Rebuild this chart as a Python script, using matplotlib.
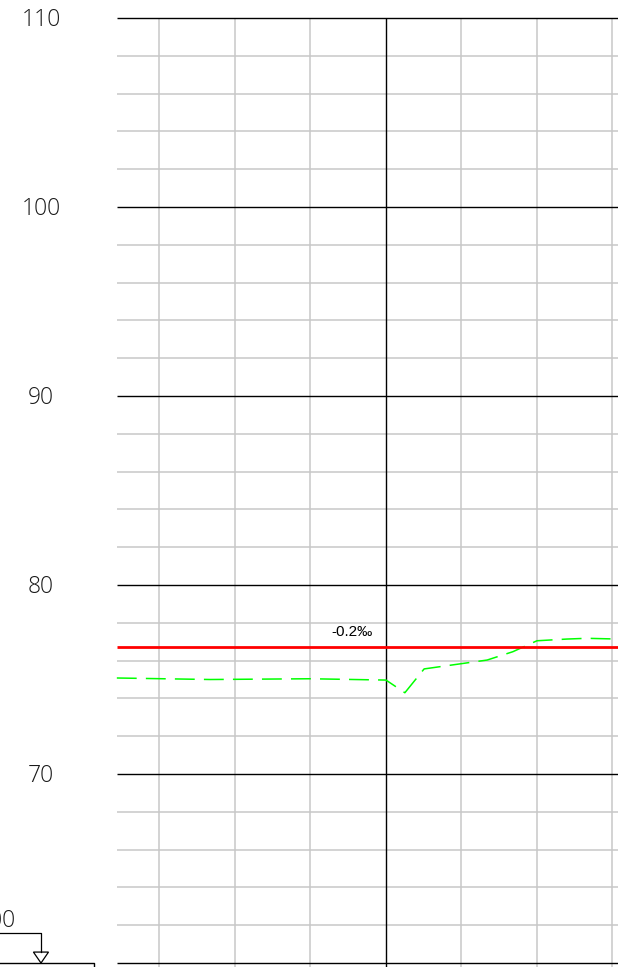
import matplotlib
matplotlib.use("Agg")
import matplotlib.pyplot as plt
from matplotlib.patches import Polygon

# ---- data ----
y_major = [60, 70, 80, 90, 100, 110]
y_minor = [v for v in range(62, 110, 2) if v % 10 != 0]
y_labels = ["110", "100", "90", "80", "70"]
x_minor = [-60, -40, -20, 20, 40, 60]
x_major = [0]
ground_x = [-71.3, -46.6, -20.0, 0.0, 5.0, 10.1, 26.8, 33.6, 40.0, 47.9, 53.2, 61.5]
ground_y = [75.08, 75.00, 75.04, 74.97, 74.30, 75.56, 76.03, 76.47, 77.05, 77.14, 77.18, 77.14]
grade_y = 76.73
grade_label = "-0.2‰"
water_label = "100"

# ---- layout ----
x_left, x_right = -102.25, 61.46
y_bot, y_top = 59.79, 110.95
x_start = -71.26

fig = plt.figure(figsize=(6.18, 9.67), dpi=100)
ax = fig.add_axes([0, 0, 1, 1])
ax.set_xlim(x_left, x_right)
ax.set_ylim(y_bot, y_top)
ax.axis("off")

for v in y_minor:
    ax.hlines(v, x_start, x_right, color="#c8c8c8", lw=1.1, zorder=1)
for v in y_major:
    ax.hlines(v, x_start, x_right, color="black", lw=1.0, zorder=2)
for v in x_minor:
    ax.vlines(v, y_bot, 110, color="#c8c8c8", lw=1.1, zorder=1)
for v in x_major:
    ax.vlines(v, y_bot, 110, color="black", lw=1.0, zorder=2)

ax.hlines(grade_y, x_start, x_right, color="#ff0000", lw=2.0, zorder=4)
ax.plot(ground_x, ground_y, color="#00ff00", lw=1.1, dashes=(13, 6), zorder=3)
ax.text(-9.0, 77.5, grade_label, ha="center", va="center", fontsize=11,
        family="Liberation Sans", color="black")

lab_font = dict(fontsize=16.5, family="Open Sans", fontweight="light", color="#1a1a1a")
for lab in y_labels:
    ax.text(-91.4, float(lab) - 0.1, lab, ha="center", va="center", **lab_font)

# bottom-left water marker
ax.text(-98.1, 62.2, water_label, ha="right", va="center", clip_on=False, **lab_font)
ax.plot([x_left, -91.39, -91.39], [61.59, 61.59, 60.58], color="black", lw=0.9)
ax.add_patch(Polygon([[-93.4, 60.58], [-89.4, 60.58], [-91.39, 60.0]],
                     closed=True, fill=False, edgecolor="black", lw=0.9))
ax.plot([x_left, -77.35, -77.35], [60.0, 60.0, y_bot], color="black", lw=1.0)

fig.savefig("out.png", dpi=100)
